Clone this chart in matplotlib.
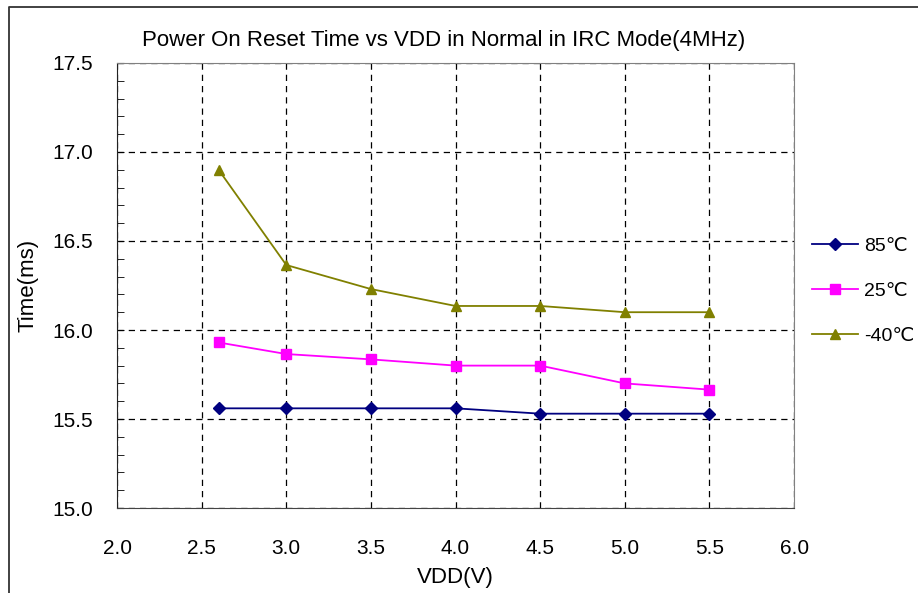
import matplotlib
matplotlib.use("Agg")
import matplotlib.pyplot as plt
from matplotlib.ticker import FormatStrFormatter, MultipleLocator
from matplotlib.lines import Line2D

plt.rcParams['font.family'] = ['Liberation Sans', 'DejaVu Sans']

# VDD (V) and power-on reset time (ms) per temperature
vdd = [2.6, 3.0, 3.5, 4.0, 4.5, 5.0, 5.5]
t_85 = [15.56, 15.56, 15.56, 15.56, 15.53, 15.53, 15.53]
t_25 = [15.93, 15.865, 15.835, 15.80, 15.80, 15.70, 15.665]
t_m40 = [16.90, 16.365, 16.23, 16.135, 16.135, 16.10, 16.10]

fig = plt.figure(figsize=(9.18, 5.93), dpi=100)
ax = fig.add_axes([0.1275, 0.1433, 0.7375, 0.7505])

# outer chart frame (only left and top edges visible)
fig.lines.append(Line2D([0.0098, 0.0098, 1.0], [0.0, 0.9874, 0.9874], transform=fig.transFigure,
                        color='#333333', linewidth=1.3))

ax.plot(vdd, t_85, color='#000080', marker='D', markersize=6, linewidth=1.3, label='85℃')
ax.plot(vdd, t_25, color='#FF00FF', marker='s', markersize=6.5, linewidth=1.3, label='25℃')
ax.plot(vdd, t_m40, color='#808000', marker='^', markersize=7.5, linewidth=1.3, label='-40℃')

ax.set_xlim(2.0, 6.0)
ax.set_ylim(15.0, 17.5)
ax.set_xticks([2.0, 2.5, 3.0, 3.5, 4.0, 4.5, 5.0, 5.5, 6.0])
ax.set_yticks([15.0, 15.5, 16.0, 16.5, 17.0, 17.5])
ax.yaxis.set_minor_locator(MultipleLocator(0.1))
ax.xaxis.set_major_formatter(FormatStrFormatter('%.1f'))
ax.yaxis.set_major_formatter(FormatStrFormatter('%.1f'))
ax.tick_params(axis='y', which='major', labelsize=15, direction='in', length=5, pad=17)
ax.tick_params(axis='x', which='major', labelsize=15, length=0, pad=22)
ax.tick_params(axis='y', which='minor', direction='in', length=5)

ax.grid(True, color='black', linestyle=(0, (5, 4)), linewidth=0.9)
ax.spines['top'].set_color('#808080')
ax.spines['right'].set_color('#808080')
ax.spines['left'].set_color('#222222')
ax.spines['bottom'].set_color('#444444')

ax.set_title('Power On Reset Time vs VDD in Normal in IRC Mode(4MHz)', fontsize=16, pad=12, x=0.482)
ax.set_xlabel('VDD(V)', fontsize=16, labelpad=7)
ax.set_ylabel('Time(ms)', fontsize=16, labelpad=10)

ax.legend(loc='center left', bbox_to_anchor=(1.0, 0.487), frameon=False,
          fontsize=14, handlelength=2.4, handletextpad=0.3, labelspacing=1.4)

fig.savefig('out.png', dpi=100)
